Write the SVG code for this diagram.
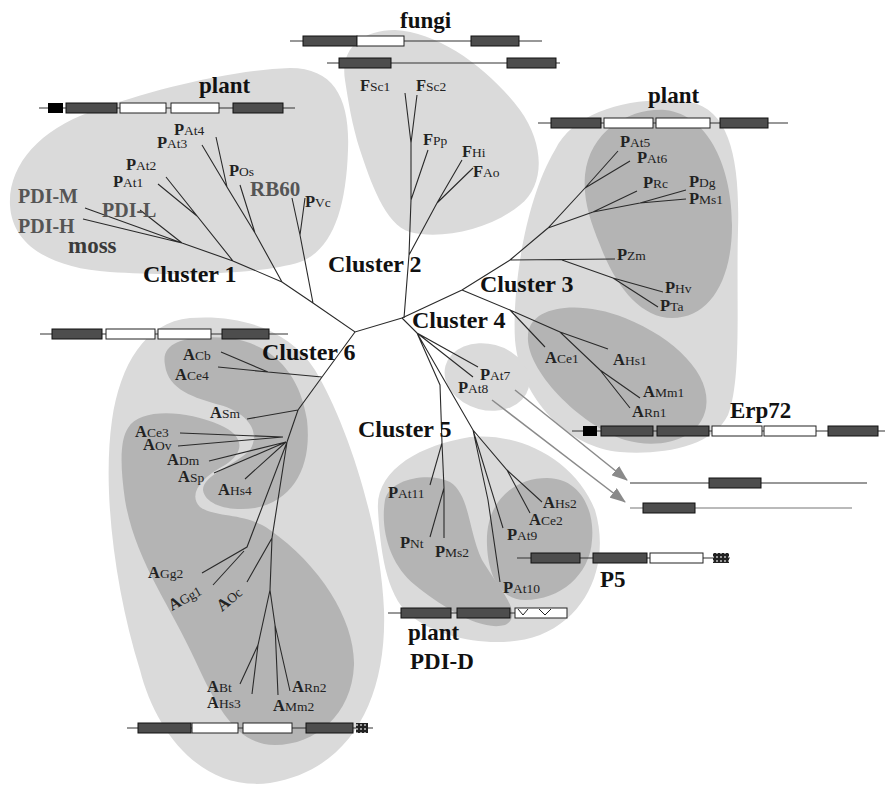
<svg xmlns="http://www.w3.org/2000/svg" width="886" height="785" viewBox="0 0 886 785">
<style>
.lt{fill:#dadada}
.dg{fill:#b4b4b4}
.br{stroke:#2a2a2a;stroke-width:1.1;fill:none}
.gl{stroke:#333;stroke-width:1.2}
.dk{fill:#4d4d4d;stroke:#111;stroke-width:1}
.wh{fill:#fff;stroke:#222;stroke-width:1}
.bk{fill:#000}
.ar{stroke:#8a8a8a;stroke-width:1.5;fill:none}
.t{font-family:"Liberation Serif",serif;font-size:13.5px;fill:#222}
.t .b{font-weight:bold;font-size:16.5px}
.cl{font-family:"Liberation Serif",serif;font-size:24px;font-weight:bold;fill:#111}
.lb{font-family:"Liberation Serif",serif;font-size:23px;font-weight:bold;fill:#111}
.gy{font-family:"Liberation Serif",serif;font-size:20px;font-weight:bold;fill:#555}
</style>
<defs>
<pattern id="chk" width="4" height="4" patternUnits="userSpaceOnUse"><rect width="4" height="4" fill="#222"/><rect width="2" height="2" fill="#999"/></pattern>
<marker id="ah" markerWidth="16" markerHeight="12" refX="15" refY="6" orient="auto" markerUnits="userSpaceOnUse"><path d="M0,0 L16,6 L0,12 Z" fill="#8a8a8a"/></marker>
</defs>
<rect width="886" height="785" fill="#fff"/>

<!-- cluster regions -->
<g id="regions">
<path class="lt" d="M 10,205 C 8,165 40,130 90,112 C 150,90 230,70 290,68 C 335,68 350,100 348,150 C 346,210 332,250 300,262 C 260,275 170,276 110,272 C 50,268 12,245 10,205 Z"/>
<path class="lt" d="M 345,80 C 340,50 360,30 395,30 C 440,32 490,70 520,110 C 545,145 545,185 520,205 C 490,230 440,240 410,232 C 385,225 370,180 360,150 C 352,125 348,100 345,80 Z"/>
<path class="lt" d="M 555,150 C 575,108 640,95 690,102 C 730,110 740,160 738,230 C 736,300 742,380 728,415 C 712,448 660,455 620,452 C 570,448 520,400 515,340 C 512,290 525,200 555,150 Z"/>
<path class="dg" d="M 585,175 C 590,130 630,108 665,110 C 710,115 732,170 732,225 C 732,280 710,318 672,318 C 640,318 615,285 600,245 C 590,220 583,200 585,175 Z"/>
<path class="dg" d="M 528,335 C 530,305 580,300 625,318 C 675,338 712,375 706,408 C 700,440 660,450 625,440 C 580,425 525,370 528,335 Z"/>
<ellipse class="lt" cx="487" cy="377" rx="43" ry="33" transform="rotate(15 487 377)"/>
<path class="lt" d="M 378,510 C 375,470 420,445 470,437 C 520,432 575,460 595,510 C 610,560 590,615 540,635 C 500,650 440,640 410,615 C 385,595 380,545 378,510 Z"/>
<path class="dg" d="M 385,500 C 390,478 430,472 450,482 C 470,495 468,530 482,560 C 500,590 525,615 505,625 C 480,632 440,605 415,585 C 390,565 380,530 385,500 Z"/>
<path class="dg" d="M 487,545 C 485,500 515,478 547,478 C 580,478 595,510 592,540 C 590,575 560,600 525,600 C 500,600 488,575 487,545 Z"/>
<path class="lt" d="M 190,318 C 240,314 290,330 315,370 C 345,420 380,520 384,610 C 387,700 350,770 270,783 C 200,792 155,730 140,670 C 115,590 102,490 112,420 C 120,365 145,322 190,318 Z"/>
<path class="dg" d="M 165,365 C 160,340 190,335 230,338 C 275,345 300,375 307,420 C 312,465 295,500 255,508 C 230,512 205,505 203,490 C 203,475 235,465 250,450 C 262,430 245,412 220,405 C 195,398 168,390 165,365 Z"/>
<path class="dg" d="M 128,428 C 140,408 185,410 220,425 C 245,436 245,452 225,465 C 200,478 188,495 200,507 C 215,518 245,512 270,530 C 320,565 355,620 354,665 C 352,715 315,745 275,745 C 240,745 220,715 195,660 C 170,605 135,560 125,500 C 120,465 120,440 128,428 Z"/>
</g>

<!-- tree branches and arrows -->
<g id="connectors">
<path class="br" d="M402,318 L355,332 L313,303 L282,282 M313,303 L300,235 L292,198 M300,235 L305,198 M282,282 L255,233 L227,187 L216,137 M227,187 L202,145 M255,233 L240,185 M282,282 L233,261 L166,177 M197,216 L158,184 M233,261 L182,243 L85,208 M182,243 L83,219 M182,243 L140,210"/>
<path class="br" d="M404,318 L409,255 L411,200 L411,143 L405,93 M411,143 L417,95 M411,200 L428,150 M409,255 L437,203 L462,160 M437,203 L473,168"/>
<path class="br" d="M402,318 L462,290 L510,260 L615,259 M562,260 L613,278 L663,292 M613,278 L658,307 M510,260 L548,228 L585,188 L618,151 M585,188 L630,161 M548,228 L593,212 L637,191 M593,212 L640,203 L686,190 M640,203 L686,199 M462,290 L510,310 L560,332 L600,370 L640,398 M600,370 L630,408 M510,310 L545,347 M560,332 L608,349"/>
<path class="br" d="M402,318 L417,333 L478,367 M417,333 L473,377 M417,333 L440,385 L442,443 L430,485 M442,443 L444,488 L430,537 M444,488 L444,538 M417,333 L473,430 L507,470 L542,502 M507,470 L530,513 M473,430 L503,528 M473,430 L488,500 L500,582"/>
<path class="br" d="M355,332 L322,377 L298,410 L287,442 M322,377 L268,372 L221,352 M268,372 L218,367 M298,410 L247,419 M283,437 L180,433 M283,437 L178,446 M286,442 L209,461 M286,442 L214,473 M286,442 L245,479 M287,442 L247,547 L202,573 M244,551 L213,585 M287,442 L272,538 L247,582 M272,538 L270,590 L258,645 L240,684 M258,645 L252,694 M270,590 L275,625 L290,691 M275,625 L278,695"/>
<line class="ar" x1="515" y1="390" x2="627" y2="480" marker-end="url(#ah)"/>
<line class="ar" x1="492" y1="400" x2="625" y2="502" marker-end="url(#ah)"/>
</g>

<!-- gene structures -->
<g id="gene-plant1">
<line class="gl" x1="39" y1="108" x2="295" y2="108"/>
<rect class="bk" x="48" y="103" width="15" height="10"/>
<rect class="dk" x="66" y="103" width="51" height="10"/>
<rect class="wh" x="120" y="103" width="46" height="10"/>
<rect class="wh" x="171" y="103" width="48" height="10"/>
<rect class="dk" x="233" y="103" width="50" height="10"/>
</g>
<g id="gene-fungi1">
<line class="gl" x1="290" y1="41" x2="542" y2="41"/>
<rect class="dk" x="303" y="36" width="54" height="10"/>
<rect class="wh" x="357" y="36" width="47" height="10"/>
<rect class="dk" x="471" y="36" width="48" height="10"/>
</g>
<g id="gene-fungi2">
<line class="gl" x1="327" y1="63" x2="560" y2="63"/>
<rect class="dk" x="339" y="58" width="52" height="10"/>
<rect class="dk" x="507" y="58" width="49" height="10"/>
</g>
<g id="gene-plant3">
<line class="gl" x1="538" y1="123" x2="788" y2="123"/>
<rect class="dk" x="551" y="118" width="50" height="10"/>
<rect class="wh" x="604" y="118" width="49" height="10"/>
<rect class="wh" x="656" y="118" width="54" height="10"/>
<rect class="dk" x="720" y="118" width="48" height="10"/>
</g>
<g id="gene-animal6">
<line class="gl" x1="40" y1="334" x2="288" y2="334"/>
<rect class="dk" x="52" y="329" width="50" height="10"/>
<rect class="wh" x="106" y="329" width="49" height="10"/>
<rect class="wh" x="158" y="329" width="53" height="10"/>
<rect class="dk" x="222" y="329" width="47" height="10"/>
</g>
<g id="gene-erp72">
<line class="gl" x1="572" y1="431" x2="885" y2="431"/>
<rect class="bk" x="583" y="426" width="14" height="10"/>
<rect class="dk" x="601" y="426" width="52" height="10"/>
<rect class="dk" x="657" y="426" width="52" height="10"/>
<rect class="wh" x="712" y="426" width="50" height="10"/>
<rect class="wh" x="764" y="426" width="52" height="10"/>
<rect class="dk" x="828" y="426" width="50" height="10"/>
</g>
<g id="gene-pat7">
<line class="gl" x1="630" y1="483" x2="867" y2="483"/>
<rect class="dk" x="709" y="478" width="52" height="10"/>
</g>
<g id="gene-pat8">
<line class="gl" x1="630" y1="508" x2="852" y2="508" style="stroke:#777"/>
<rect class="dk" x="643" y="503" width="52" height="10"/>
</g>
<g id="gene-p5">
<line class="gl" x1="517" y1="558" x2="730" y2="558"/>
<rect class="dk" x="531" y="553" width="49" height="10"/>
<rect class="dk" x="593" y="553" width="54" height="10"/>
<rect class="wh" x="650" y="553" width="53" height="10"/>
<rect x="713" y="553" width="16" height="10" fill="url(#chk)"/>
</g>
<g id="gene-pdid">
<line class="gl" x1="388" y1="613" x2="567" y2="613"/>
<rect class="dk" x="401" y="608" width="50" height="10"/>
<rect class="dk" x="457" y="608" width="53" height="10"/>
<rect class="wh" x="515" y="608" width="52" height="10"/>
<path d="M518,609 L523,615 L528,609 M539,609 L545,615 L551,609" stroke="#222" stroke-width="1" fill="none"/>
</g>
<g id="gene-animal6b">
<line class="gl" x1="127" y1="728" x2="373" y2="728"/>
<rect class="dk" x="138" y="723" width="53" height="10"/>
<rect class="wh" x="192" y="723" width="46" height="10"/>
<rect class="wh" x="243" y="723" width="49" height="10"/>
<rect class="dk" x="306" y="723" width="47" height="10"/>
<rect x="356" y="723" width="12" height="10" fill="url(#chk)"/>
</g>

<!-- group labels -->
<g id="lab-plant1"><text class="lb" x="199" y="93">plant</text></g>
<g id="lab-fungi"><text class="lb" x="400" y="28">fungi</text></g>
<g id="lab-plant3"><text class="lb" x="648" y="103">plant</text></g>
<g id="lab-erp72"><text class="lb" x="730" y="418">Erp72</text></g>
<g id="lab-p5"><text class="lb" x="600" y="587">P5</text></g>
<g id="lab-plant5"><text class="lb" x="408" y="640">plant</text></g>
<g id="lab-pdid"><text class="lb" x="410" y="669">PDI-D</text></g>
<g id="cl1"><text class="cl" x="143" y="282">Cluster 1</text></g>
<g id="cl2"><text class="cl" x="328" y="272">Cluster 2</text></g>
<g id="cl3"><text class="cl" x="480" y="292">Cluster 3</text></g>
<g id="cl4"><text class="cl" x="412" y="328">Cluster 4</text></g>
<g id="cl5"><text class="cl" x="358" y="437">Cluster 5</text></g>
<g id="cl6"><text class="cl" x="262" y="360">Cluster 6</text></g>
<g id="lab-pdim"><text class="gy" x="18" y="203">PDI-M</text></g>
<g id="lab-pdil"><text class="gy" x="102" y="217">PDI-L</text></g>
<g id="lab-pdih"><text class="gy" x="18" y="233">PDI-H</text></g>
<g id="lab-moss"><text class="gy" x="68" y="253" style="font-size:23px;fill:#3a3a3a">moss</text></g>
<g id="lab-rb60"><text class="gy" x="250" y="196" style="font-size:21px">RB60</text></g>

<!-- taxa -->
<g id="PAt4"><text class="t" x="174" y="135"><tspan class="b">P</tspan>At4</text></g>
<g id="PAt3"><text class="t" x="157" y="148"><tspan class="b">P</tspan>At3</text></g>
<g id="PAt2"><text class="t" x="126" y="170"><tspan class="b">P</tspan>At2</text></g>
<g id="PAt1"><text class="t" x="113" y="187"><tspan class="b">P</tspan>At1</text></g>
<g id="POs"><text class="t" x="229" y="176"><tspan class="b">P</tspan>Os</text></g>
<g id="PVc"><text class="t" x="305" y="207"><tspan class="b">P</tspan>Vc</text></g>
<g id="FSc1"><text class="t" x="360" y="91"><tspan class="b">F</tspan>Sc1</text></g>
<g id="FSc2"><text class="t" x="416" y="91"><tspan class="b">F</tspan>Sc2</text></g>
<g id="FPp"><text class="t" x="423" y="145"><tspan class="b">F</tspan>Pp</text></g>
<g id="FHi"><text class="t" x="462" y="157"><tspan class="b">F</tspan>Hi</text></g>
<g id="FAo"><text class="t" x="473" y="177"><tspan class="b">F</tspan>Ao</text></g>
<g id="PAt5"><text class="t" x="620" y="147"><tspan class="b">P</tspan>At5</text></g>
<g id="PAt6"><text class="t" x="637" y="163"><tspan class="b">P</tspan>At6</text></g>
<g id="PRc"><text class="t" x="643" y="188"><tspan class="b">P</tspan>Rc</text></g>
<g id="PDg"><text class="t" x="689" y="187"><tspan class="b">P</tspan>Dg</text></g>
<g id="PMs1"><text class="t" x="689" y="204"><tspan class="b">P</tspan>Ms1</text></g>
<g id="PZm"><text class="t" x="617" y="260"><tspan class="b">P</tspan>Zm</text></g>
<g id="PHv"><text class="t" x="665" y="293"><tspan class="b">P</tspan>Hv</text></g>
<g id="PTa"><text class="t" x="660" y="311"><tspan class="b">P</tspan>Ta</text></g>
<g id="ACe1"><text class="t" x="545" y="363"><tspan class="b">A</tspan>Ce1</text></g>
<g id="AHs1"><text class="t" x="613" y="365"><tspan class="b">A</tspan>Hs1</text></g>
<g id="AMm1"><text class="t" x="643" y="397"><tspan class="b">A</tspan>Mm1</text></g>
<g id="ARn1"><text class="t" x="632" y="417"><tspan class="b">A</tspan>Rn1</text></g>
<g id="PAt7"><text class="t" x="480" y="380"><tspan class="b">P</tspan>At7</text></g>
<g id="PAt8"><text class="t" x="458" y="393"><tspan class="b">P</tspan>At8</text></g>
<g id="PAt11"><text class="t" x="388" y="498"><tspan class="b">P</tspan>At11</text></g>
<g id="PNt"><text class="t" x="400" y="548"><tspan class="b">P</tspan>Nt</text></g>
<g id="PMs2"><text class="t" x="435" y="557"><tspan class="b">P</tspan>Ms2</text></g>
<g id="AHs2"><text class="t" x="543" y="508"><tspan class="b">A</tspan>Hs2</text></g>
<g id="ACe2"><text class="t" x="529" y="525"><tspan class="b">A</tspan>Ce2</text></g>
<g id="PAt9"><text class="t" x="507" y="540"><tspan class="b">P</tspan>At9</text></g>
<g id="PAt10"><text class="t" x="503" y="593"><tspan class="b">P</tspan>At10</text></g>
<g id="ACb"><text class="t" x="183" y="360"><tspan class="b">A</tspan>Cb</text></g>
<g id="ACe4"><text class="t" x="175" y="380"><tspan class="b">A</tspan>Ce4</text></g>
<g id="ASm"><text class="t" x="210" y="418"><tspan class="b">A</tspan>Sm</text></g>
<g id="ACe3"><text class="t" x="135" y="437"><tspan class="b">A</tspan>Ce3</text></g>
<g id="AOv"><text class="t" x="143" y="450"><tspan class="b">A</tspan>Ov</text></g>
<g id="ADm"><text class="t" x="167" y="465"><tspan class="b">A</tspan>Dm</text></g>
<g id="ASp"><text class="t" x="178" y="482"><tspan class="b">A</tspan>Sp</text></g>
<g id="AHs4"><text class="t" x="218" y="495"><tspan class="b">A</tspan>Hs4</text></g>
<g id="AGg2"><text class="t" x="148" y="578"><tspan class="b">A</tspan>Gg2</text></g>
<g id="AGg1"><text class="t" x="172" y="611" transform="rotate(-29 172 611)"><tspan class="b">A</tspan>Gg1</text></g>
<g id="AOc"><text class="t" x="222" y="612" transform="rotate(-40 222 612)"><tspan class="b">A</tspan>Oc</text></g>
<g id="ABt"><text class="t" x="207" y="692"><tspan class="b">A</tspan>Bt</text></g>
<g id="AHs3"><text class="t" x="207" y="708"><tspan class="b">A</tspan>Hs3</text></g>
<g id="ARn2"><text class="t" x="292" y="692"><tspan class="b">A</tspan>Rn2</text></g>
<g id="AMm2"><text class="t" x="273" y="711"><tspan class="b">A</tspan>Mm2</text></g>
</svg>
